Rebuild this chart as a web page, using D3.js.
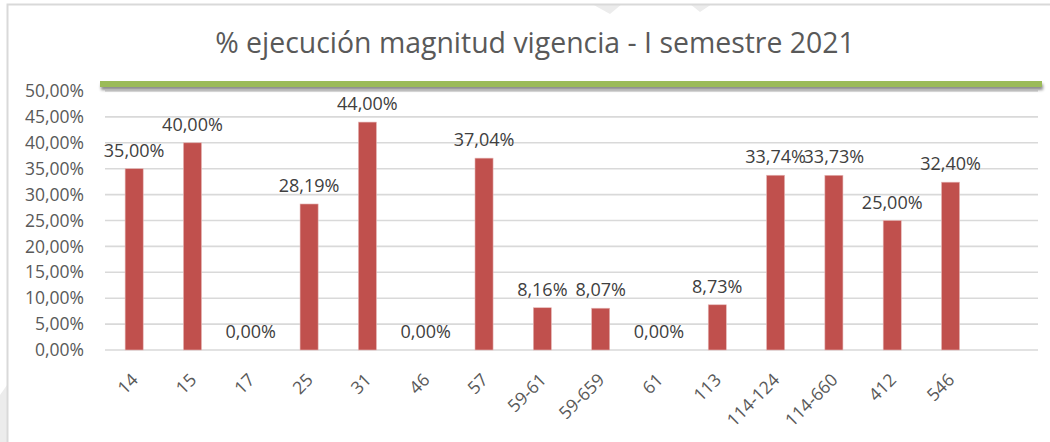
<!DOCTYPE html>
<html>
<head>
<meta charset="utf-8">
<script src="https://cdn.jsdelivr.net/npm/d3@7"></script>
<style>
  html, body { margin: 0; padding: 0; background: #ffffff; }
  svg { display: block; }
</style>
</head>
<body>
<svg id="chart" width="1050" height="442"></svg>
<script>
// ---- data ----
const categories = ["14", "15", "17", "25", "31", "46", "57", "59-61", "59-659", "61", "113", "114-124", "114-660", "412", "546", ""];
const values = [0.35, 0.40, 0.00, 0.2819, 0.44, 0.00, 0.3704, 0.0816, 0.0807, 0.00, 0.0873, 0.3374, 0.3373, 0.25, 0.3240, null];
const yTicks = [0, 0.05, 0.10, 0.15, 0.20, 0.25, 0.30, 0.35, 0.40, 0.45, 0.50];
const titleText = "% ejecución magnitud vigencia - I semestre 2021";

const FONT = "'Open Sans', 'Noto Sans', 'Liberation Sans', sans-serif";
const fmt = v => (v * 100).toFixed(2).replace(".", ",") + "%";

const svg = d3.select("#chart");
const W = 1050, H = 442;
const plot = { left: 105, right: 1038, top: 91, bottom: 350 };

// faint watermark shapes
const wm = svg.append("g").attr("fill", "#ececec");
wm.append("path").attr("d", "M0,395 L7,385 L7,442 L0,442 Z");
wm.append("path").attr("d", "M592,4 L610,14 L622,4 Z");
wm.append("path").attr("d", "M690,4 L700,12 L712,4 Z");

// chart border
svg.append("rect")
  .attr("x", 7.5).attr("y", 4.5)
  .attr("width", W + 10).attr("height", H + 10)
  .attr("fill", "none").attr("stroke", "#d9d9d9").attr("stroke-width", 2);

// scales
const x = d3.scaleBand()
  .domain(categories.map((c, i) => i))
  .range([plot.left, plot.right])
  .paddingInner(0.69).paddingOuter(0.345);

const y = d3.scaleLinear().domain([0, 0.5]).range([plot.bottom, plot.top]);

// gridlines
svg.append("g")
  .selectAll("line")
  .data(yTicks)
  .join("line")
  .attr("x1", plot.left).attr("x2", plot.right)
  .attr("y1", d => y(d)).attr("y2", d => y(d))
  .attr("stroke", "#d9d9d9").attr("stroke-width", 1.6);

// y axis labels
const yAxis = d3.axisLeft(y).tickValues(yTicks).tickFormat(fmt).tickSize(0).tickPadding(0);
svg.append("g")
  .attr("transform", `translate(${plot.left - 21},0)`)
  .call(yAxis)
  .call(g => g.select(".domain").remove())
  .call(g => g.selectAll("text")
    .attr("font-family", FONT).attr("font-size", 17.5).attr("fill", "#595959"));

// green decorative line with shadow
const defs = svg.append("defs");
const f = defs.append("filter").attr("id", "sh").attr("x", "-5%").attr("y", "-200%").attr("width", "110%").attr("height", "500%");
f.append("feGaussianBlur").attr("in", "SourceAlpha").attr("stdDeviation", 1.5).attr("result", "b");
f.append("feOffset").attr("in", "b").attr("dx", 1).attr("dy", 3).attr("result", "o");
f.append("feComponentTransfer").attr("in", "o").attr("result", "o2")
  .append("feFuncA").attr("type", "linear").attr("slope", 0.45);
const fm = f.append("feMerge");
fm.append("feMergeNode").attr("in", "o2");
fm.append("feMergeNode").attr("in", "SourceGraphic");

svg.append("rect")
  .attr("x", plot.left - 5).attr("y", y(0.5) - 10)
  .attr("width", plot.right - plot.left + 9).attr("height", 6)
  .attr("fill", "#9bbb59")
  .attr("filter", "url(#sh)");

// bars
const idx = d3.range(categories.length).filter(i => values[i] !== null);
svg.append("g")
  .selectAll("rect")
  .data(idx)
  .join("rect")
  .attr("x", i => x(i))
  .attr("width", x.bandwidth())
  .attr("y", i => y(values[i]))
  .attr("height", i => y(0) - y(values[i]))
  .attr("fill", "#c0504d")
  .attr("stroke", "#e6b9b8").attr("stroke-width", 0.6);

// data labels
svg.append("g")
  .selectAll("text")
  .data(idx)
  .join("text")
  .attr("x", i => x(i) + x.bandwidth() / 2)
  .attr("y", i => y(values[i]) - 12)
  .attr("text-anchor", "middle")
  .attr("font-family", FONT).attr("font-size", 18).attr("fill", "#404040")
  .text(i => fmt(values[i]));

// x axis labels
const xAxis = d3.axisBottom(x).tickFormat(i => categories[i]).tickSize(0).tickPadding(0);
svg.append("g")
  .attr("transform", `translate(0,${plot.bottom})`)
  .call(xAxis)
  .call(g => g.select(".domain").remove())
  .call(g => g.selectAll("text")
    .attr("font-family", FONT).attr("font-size", 17.5).attr("fill", "#595959")
    .attr("text-anchor", "end")
    .attr("dy", 0)
    .attr("transform", "translate(5,31) rotate(-45)"));

// title
const t = svg.append("text")
  .attr("x", 535).attr("y", 53)
  .attr("text-anchor", "middle")
  .attr("font-family", FONT).attr("font-size", 26).attr("fill", "#595959")
  .text(titleText);
const tw = t.node().getComputedTextLength();
t.attr("font-size", 26 * 640 / tw);
</script>
</body>
</html>
